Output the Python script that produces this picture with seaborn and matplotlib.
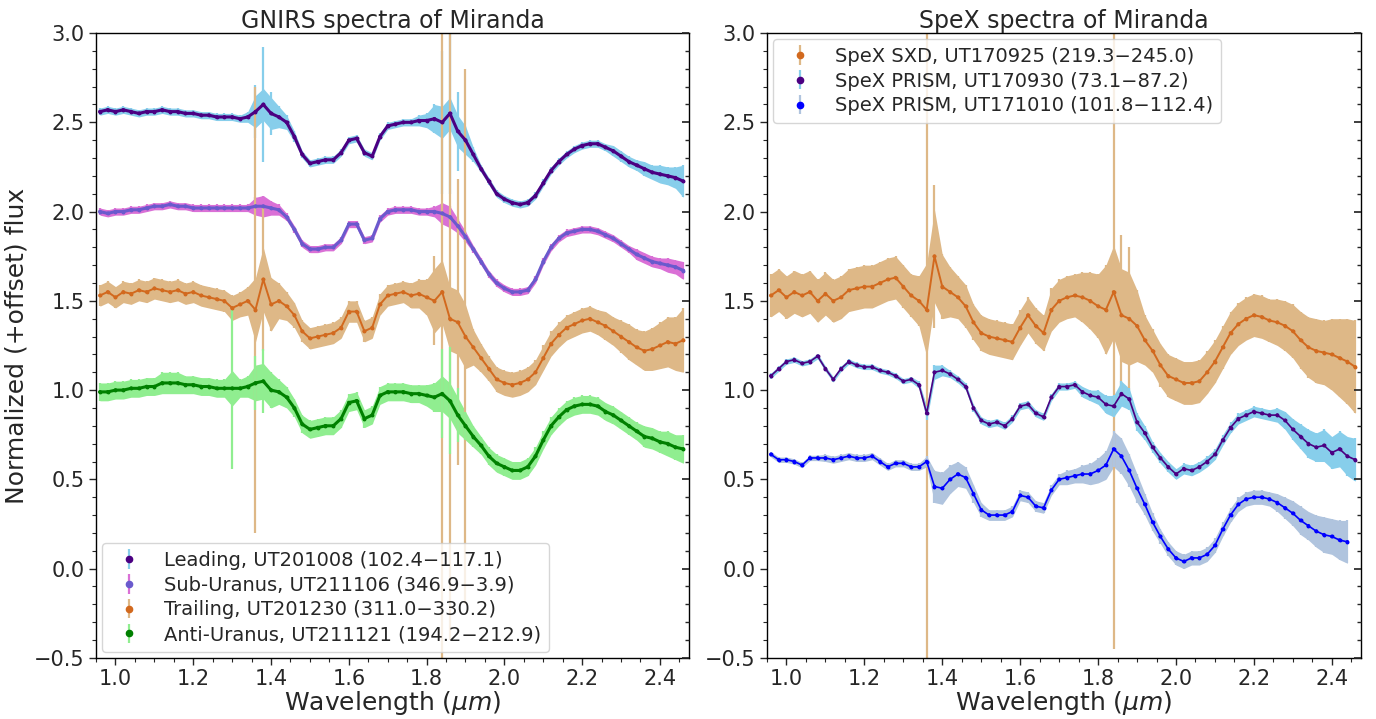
import numpy as np
import matplotlib
matplotlib.use("Agg")
import matplotlib.pyplot as plt
import seaborn as sns
from matplotlib.ticker import AutoMinorLocator

# ---------------- data ----------------
wavelength = [0.96, 0.98, 1.00, 1.02, 1.04, 1.06, 1.08, 1.10, 1.12, 1.14,
              1.16, 1.18, 1.20, 1.22, 1.24, 1.26, 1.28, 1.30, 1.32, 1.34,
              1.36, 1.38, 1.40, 1.42, 1.44, 1.46, 1.48, 1.50, 1.52, 1.54,
              1.56, 1.58, 1.60, 1.62, 1.64, 1.66, 1.68, 1.70, 1.72, 1.74,
              1.76, 1.78, 1.80, 1.82, 1.84, 1.86, 1.88, 1.90, 1.92, 1.94,
              1.96, 1.98, 2.00, 2.02, 2.04, 2.06, 2.08, 2.10, 2.12, 2.14,
              2.16, 2.18, 2.20, 2.22, 2.24, 2.26, 2.28, 2.30, 2.32, 2.34,
              2.36, 2.38, 2.40, 2.42, 2.44, 2.46]

# GNIRS
leading_flux = [2.56, 2.57, 2.56, 2.57, 2.56, 2.55, 2.56, 2.56, 2.57, 2.56,
                2.56, 2.55, 2.55, 2.54, 2.54, 2.53, 2.53, 2.53, 2.52, 2.53,
                2.56, 2.60, 2.55, 2.53, 2.50, 2.42, 2.32, 2.27, 2.28, 2.29,
                2.29, 2.33, 2.40, 2.41, 2.33, 2.31, 2.42, 2.48, 2.49, 2.50,
                2.50, 2.51, 2.51, 2.52, 2.50, 2.55, 2.45, 2.40, 2.32, 2.24,
                2.17, 2.10, 2.07, 2.05, 2.04, 2.05, 2.09, 2.16, 2.23, 2.28,
                2.32, 2.35, 2.37, 2.38, 2.38, 2.36, 2.34, 2.31, 2.28, 2.26,
                2.24, 2.22, 2.21, 2.20, 2.19, 2.17]
leading_err = [0.02, 0.02, 0.02, 0.02, 0.02, 0.02, 0.02, 0.02, 0.02, 0.02,
               0.02, 0.02, 0.02, 0.02, 0.02, 0.02, 0.02, 0.02, 0.02, 0.03,
               0.15, 0.32, 0.12, 0.06, 0.04, 0.03, 0.02, 0.02, 0.02, 0.02,
               0.02, 0.02, 0.02, 0.02, 0.02, 0.02, 0.02, 0.02, 0.02, 0.02,
               0.02, 0.03, 0.04, 0.08, 0.40, 0.45, 0.22, 0.08, 0.04, 0.02,
               0.02, 0.02, 0.02, 0.02, 0.02, 0.02, 0.02, 0.02, 0.02, 0.02,
               0.02, 0.02, 0.02, 0.02, 0.02, 0.02, 0.03, 0.03, 0.03, 0.03,
               0.04, 0.04, 0.05, 0.05, 0.06, 0.09]

suburanus_flux = [2.00, 1.99, 2.00, 2.00, 2.01, 2.01, 2.02, 2.03, 2.03, 2.04,
                  2.03, 2.03, 2.02, 2.02, 2.02, 2.02, 2.02, 2.02, 2.02, 2.02,
                  2.03, 2.03, 2.02, 2.01, 1.97, 1.90, 1.82, 1.79, 1.79, 1.80,
                  1.80, 1.84, 1.93, 1.93, 1.84, 1.85, 1.96, 2.00, 2.01, 2.01,
                  2.01, 2.00, 2.00, 2.00, 1.99, 1.97, 1.92, 1.86, 1.79, 1.72,
                  1.65, 1.60, 1.57, 1.55, 1.55, 1.56, 1.62, 1.72, 1.80, 1.85,
                  1.88, 1.89, 1.90, 1.90, 1.89, 1.87, 1.85, 1.82, 1.79, 1.76,
                  1.74, 1.72, 1.71, 1.70, 1.69, 1.67]
suburanus_err = [0.02, 0.02, 0.02, 0.02, 0.02, 0.02, 0.02, 0.02, 0.02, 0.02,
                 0.02, 0.02, 0.02, 0.02, 0.02, 0.02, 0.02, 0.02, 0.02, 0.02,
                 0.05, 0.06, 0.04, 0.03, 0.02, 0.02, 0.02, 0.02, 0.02, 0.02,
                 0.02, 0.02, 0.02, 0.02, 0.02, 0.02, 0.02, 0.02, 0.02, 0.02,
                 0.02, 0.02, 0.02, 0.03, 0.06, 0.06, 0.04, 0.03, 0.02, 0.02,
                 0.02, 0.02, 0.02, 0.02, 0.02, 0.02, 0.02, 0.02, 0.02, 0.02,
                 0.02, 0.02, 0.02, 0.02, 0.02, 0.02, 0.02, 0.02, 0.02, 0.03,
                 0.03, 0.03, 0.03, 0.04, 0.04, 0.05]

trailing_flux = [1.53, 1.55, 1.52, 1.55, 1.54, 1.56, 1.55, 1.57, 1.56, 1.55,
                 1.56, 1.54, 1.55, 1.53, 1.52, 1.51, 1.50, 1.46, 1.48, 1.50,
                 1.45, 1.62, 1.48, 1.50, 1.47, 1.42, 1.33, 1.29, 1.30, 1.31,
                 1.32, 1.35, 1.44, 1.44, 1.33, 1.35, 1.48, 1.53, 1.54, 1.55,
                 1.53, 1.54, 1.52, 1.50, 1.55, 1.40, 1.38, 1.30, 1.24, 1.18,
                 1.12, 1.06, 1.04, 1.03, 1.04, 1.06, 1.10, 1.18, 1.26, 1.31,
                 1.35, 1.37, 1.39, 1.40, 1.38, 1.36, 1.33, 1.30, 1.27, 1.24,
                 1.22, 1.23, 1.25, 1.27, 1.26, 1.28]
trailing_err = [0.06, 0.06, 0.06, 0.06, 0.06, 0.06, 0.06, 0.06, 0.06, 0.06,
                0.06, 0.06, 0.06, 0.06, 0.06, 0.06, 0.06, 0.07, 0.07, 0.08,
                1.25, 0.40, 0.15, 0.10, 0.08, 0.07, 0.06, 0.06, 0.06, 0.06,
                0.06, 0.06, 0.06, 0.06, 0.06, 0.06, 0.06, 0.06, 0.06, 0.06,
                0.07, 0.08, 0.10, 0.25, 2.20, 1.80, 0.80, 1.50, 0.10, 0.08,
                0.07, 0.07, 0.07, 0.07, 0.07, 0.07, 0.07, 0.07, 0.07, 0.07,
                0.07, 0.07, 0.07, 0.07, 0.07, 0.08, 0.08, 0.09, 0.10, 0.10,
                0.11, 0.12, 0.13, 0.14, 0.15, 0.18]

antiuranus_flux = [0.99, 0.99, 1.00, 1.00, 1.01, 1.01, 1.02, 1.02, 1.04, 1.04,
                   1.04, 1.03, 1.03, 1.02, 1.02, 1.01, 1.01, 1.01, 1.01, 1.02,
                   1.04, 1.05, 1.00, 0.99, 0.96, 0.90, 0.81, 0.78, 0.79, 0.80,
                   0.80, 0.84, 0.93, 0.94, 0.84, 0.86, 0.97, 0.99, 0.99, 0.99,
                   0.98, 0.98, 0.97, 0.96, 0.98, 0.94, 0.86, 0.80, 0.74, 0.69,
                   0.63, 0.59, 0.57, 0.55, 0.55, 0.57, 0.63, 0.72, 0.80, 0.85,
                   0.89, 0.91, 0.92, 0.92, 0.91, 0.88, 0.86, 0.83, 0.80, 0.77,
                   0.74, 0.73, 0.71, 0.70, 0.68, 0.67]
antiuranus_err = [0.05, 0.05, 0.05, 0.05, 0.05, 0.05, 0.05, 0.05, 0.06, 0.06,
                  0.06, 0.05, 0.05, 0.05, 0.05, 0.05, 0.05, 0.45, 0.05, 0.06,
                  0.15, 0.18, 0.10, 0.07, 0.06, 0.05, 0.05, 0.05, 0.05, 0.05,
                  0.05, 0.05, 0.05, 0.05, 0.05, 0.05, 0.05, 0.05, 0.05, 0.05,
                  0.05, 0.05, 0.06, 0.08, 0.25, 0.30, 0.15, 0.08, 0.06, 0.05,
                  0.05, 0.05, 0.05, 0.05, 0.05, 0.05, 0.05, 0.05, 0.05, 0.05,
                  0.05, 0.05, 0.05, 0.05, 0.05, 0.05, 0.05, 0.05, 0.05, 0.05,
                  0.06, 0.06, 0.06, 0.07, 0.07, 0.08]

# SpeX
sxd_flux = [1.53, 1.56, 1.52, 1.55, 1.53, 1.55, 1.50, 1.54, 1.50, 1.52,
            1.56, 1.57, 1.58, 1.58, 1.60, 1.62, 1.63, 1.58, 1.53, 1.50,
            1.45, 1.75, 1.58, 1.55, 1.52, 1.47, 1.38, 1.32, 1.30, 1.29,
            1.28, 1.27, 1.35, 1.42, 1.36, 1.32, 1.45, 1.50, 1.52, 1.53,
            1.52, 1.50, 1.47, 1.45, 1.55, 1.42, 1.40, 1.36, 1.28, 1.22,
            1.14, 1.08, 1.06, 1.04, 1.04, 1.05, 1.10, 1.16, 1.24, 1.32,
            1.37, 1.40, 1.42, 1.41, 1.39, 1.38, 1.36, 1.33, 1.28, 1.24,
            1.22, 1.21, 1.20, 1.18, 1.16, 1.13]
sxd_err = [0.12, 0.12, 0.12, 0.12, 0.12, 0.12, 0.12, 0.12, 0.12, 0.12,
           0.12, 0.12, 0.12, 0.12, 0.12, 0.12, 0.12, 0.12, 0.12, 0.14,
           2.00, 0.40, 0.18, 0.14, 0.12, 0.12, 0.10, 0.10, 0.10, 0.10,
           0.10, 0.10, 0.10, 0.10, 0.10, 0.10, 0.12, 0.12, 0.12, 0.12,
           0.14, 0.16, 0.18, 0.25, 2.00, 0.45, 0.40, 0.20, 0.14, 0.12,
           0.12, 0.12, 0.12, 0.12, 0.12, 0.12, 0.12, 0.12, 0.12, 0.12,
           0.12, 0.12, 0.12, 0.12, 0.12, 0.13, 0.14, 0.15, 0.16, 0.17,
           0.18, 0.18, 0.20, 0.22, 0.24, 0.26]

prism0930_flux = [1.08, 1.12, 1.16, 1.17, 1.15, 1.16, 1.19, 1.12, 1.06, 1.12,
                  1.16, 1.14, 1.13, 1.13, 1.11, 1.10, 1.08, 1.05, 1.06, 1.03,
                  0.87, 1.10, 1.11, 1.09, 1.06, 1.02, 0.90, 0.83, 0.81, 0.82,
                  0.80, 0.84, 0.91, 0.92, 0.87, 0.85, 0.96, 1.02, 1.02, 1.03,
                  0.99, 0.97, 0.96, 0.92, 0.91, 0.98, 0.95, 0.82, 0.76, 0.68,
                  0.62, 0.57, 0.53, 0.56, 0.55, 0.57, 0.60, 0.64, 0.72, 0.79,
                  0.84, 0.86, 0.88, 0.87, 0.86, 0.86, 0.83, 0.78, 0.74, 0.70,
                  0.68, 0.69, 0.65, 0.67, 0.63, 0.61]
prism0930_err = [0.015, 0.015, 0.015, 0.015, 0.015, 0.015, 0.015, 0.015, 0.015, 0.015,
                 0.015, 0.015, 0.015, 0.015, 0.015, 0.015, 0.015, 0.015, 0.015, 0.02,
                 0.04, 0.04, 0.03, 0.02, 0.02, 0.02, 0.02, 0.02, 0.02, 0.02,
                 0.02, 0.02, 0.02, 0.02, 0.02, 0.02, 0.02, 0.02, 0.02, 0.02,
                 0.03, 0.03, 0.04, 0.05, 0.06, 0.07, 0.06, 0.05, 0.04, 0.03,
                 0.03, 0.03, 0.03, 0.03, 0.03, 0.03, 0.03, 0.03, 0.03, 0.03,
                 0.03, 0.03, 0.03, 0.03, 0.03, 0.04, 0.05, 0.06, 0.07, 0.08,
                 0.08, 0.09, 0.09, 0.10, 0.11, 0.12]

prism1010_flux = [0.64, 0.61, 0.61, 0.60, 0.58, 0.62, 0.62, 0.62, 0.61, 0.62,
                  0.63, 0.62, 0.62, 0.63, 0.60, 0.57, 0.59, 0.59, 0.57, 0.57,
                  0.60, 0.46, 0.45, 0.50, 0.53, 0.51, 0.42, 0.33, 0.30, 0.30,
                  0.30, 0.32, 0.41, 0.40, 0.35, 0.34, 0.44, 0.50, 0.51, 0.52,
                  0.53, 0.53, 0.55, 0.58, 0.67, 0.63, 0.55, 0.45, 0.36, 0.26,
                  0.18, 0.11, 0.06, 0.04, 0.06, 0.06, 0.08, 0.13, 0.22, 0.30,
                  0.36, 0.39, 0.40, 0.40, 0.39, 0.37, 0.34, 0.31, 0.27, 0.24,
                  0.21, 0.19, 0.18, 0.16, 0.15, np.nan]
prism1010_err = [0.015, 0.015, 0.015, 0.015, 0.015, 0.015, 0.015, 0.02, 0.02, 0.02,
                 0.02, 0.02, 0.02, 0.02, 0.02, 0.02, 0.02, 0.02, 0.02, 0.02,
                 0.03, 0.09, 0.09, 0.08, 0.07, 0.06, 0.05, 0.04, 0.03, 0.03,
                 0.03, 0.03, 0.03, 0.03, 0.03, 0.03, 0.03, 0.03, 0.04, 0.04,
                 0.05, 0.06, 0.07, 0.08, 0.10, 0.10, 0.09, 0.08, 0.06, 0.05,
                 0.04, 0.04, 0.04, 0.04, 0.04, 0.04, 0.04, 0.04, 0.04, 0.04,
                 0.04, 0.04, 0.04, 0.04, 0.04, 0.05, 0.06, 0.07, 0.08, 0.08,
                 0.09, 0.10, 0.10, 0.11, 0.12, np.nan]

gnirs_labels = ["Leading, UT201008 (102.4\u2212117.1)",
                "Sub-Uranus, UT211106 (346.9\u22123.9)",
                "Trailing, UT201230 (311.0\u2212330.2)",
                "Anti-Uranus, UT211121 (194.2\u2212212.9)"]
spex_labels = ["SpeX SXD, UT170925 (219.3\u2212245.0)",
               "SpeX PRISM, UT170930 (73.1\u221287.2)",
               "SpeX PRISM, UT171010 (101.8\u2212112.4)"]

# ---------------- plotting ----------------
sns.set_theme(style="ticks")
plt.rcParams["font.family"] = ["DejaVu Sans"]
plt.rcParams["mathtext.fontset"] = "dejavusans"

fig = plt.figure(figsize=(13.76, 7.19), dpi=100)
ax1 = fig.add_axes([0.0698, 0.085, 0.431, 0.869])
ax2 = fig.add_axes([0.5574, 0.085, 0.4317, 0.869])


def draw(ax, flux, err, mcolor, ecolor, label, band_cap, line_w):
    x = np.array(wavelength)
    f = np.array(flux, dtype=float)
    e = np.array(err, dtype=float)
    eb = np.minimum(e, band_cap)
    ax.fill_between(x, f - eb, f + eb, color=ecolor, lw=0, zorder=1)
    ax.errorbar(x, f, yerr=e, fmt="o", ms=1.8, color=mcolor, mec=mcolor,
                ecolor=ecolor, elinewidth=1.6, capsize=0, label=label, zorder=2)
    sns.lineplot(x=x, y=f, ax=ax, color=mcolor, lw=line_w, legend=False, zorder=3)
    sns.scatterplot(x=x, y=f, ax=ax, s=7, color=mcolor, edgecolor="none",
                    legend=False, zorder=4)


draw(ax1, leading_flux, leading_err, "#4B0082", "#87CEEB", gnirs_labels[0], 0.09, 2.2)
draw(ax1, suburanus_flux, suburanus_err, "#6A5ACD", "#DA70D6", gnirs_labels[1], 0.06, 2.2)
draw(ax1, trailing_flux, trailing_err, "#D2691E", "#DEB887", gnirs_labels[2], 0.18, 1.4)
draw(ax1, antiuranus_flux, antiuranus_err, "#008000", "#90EE90", gnirs_labels[3], 0.10, 2.2)

draw(ax2, sxd_flux, sxd_err, "#D2691E", "#DEB887", spex_labels[0], 0.26, 1.4)
draw(ax2, prism0930_flux, prism0930_err, "#4B0082", "#87CEEB", spex_labels[1], 0.12, 1.2)
draw(ax2, prism1010_flux, prism1010_err, "#0000FF", "#B0C4DE", spex_labels[2], 0.12, 1.2)

for ax, title in [(ax1, "GNIRS spectra of Miranda"), (ax2, "SpeX spectra of Miranda")]:
    ax.set_xlim(0.95, 2.475)
    ax.set_ylim(-0.5, 3.0)
    ax.set_title(title, fontsize=17, pad=4)
    ax.set_xlabel(r"Wavelength ($\mu m$)", fontsize=18, labelpad=0)
    ax.xaxis.set_minor_locator(AutoMinorLocator(4))
    ax.yaxis.set_minor_locator(AutoMinorLocator(5))
    ax.tick_params(axis="both", which="major", labelsize=15, length=5, width=1,
                   direction="out", pad=3)
    ax.tick_params(axis="both", which="minor", length=3, width=0.8, direction="out")
    for sp in ax.spines.values():
        sp.set_linewidth(1.0)
        sp.set_color("black")
    tw = ax.twinx()
    tw.set_ylim(-0.5, 3.0)
    tw.yaxis.set_minor_locator(AutoMinorLocator(5))
    tw.tick_params(axis="y", which="major", direction="in", length=5, labelright=False)
    tw.tick_params(axis="y", which="minor", direction="in", length=3, labelright=False)
    for sp in tw.spines.values():
        sp.set_visible(False)

ax1.set_ylabel("Normalized (+offset) flux", fontsize=18)
ax1.legend(loc="lower left", fontsize=14, markerscale=2.5, handlelength=2,
           borderaxespad=0.3, labelspacing=0.3, framealpha=0.8)
ax2.legend(loc="upper left", fontsize=14, markerscale=2.5, handlelength=2,
           borderaxespad=0.3, labelspacing=0.3, framealpha=0.8)

fig.savefig("out.png", dpi=100)
